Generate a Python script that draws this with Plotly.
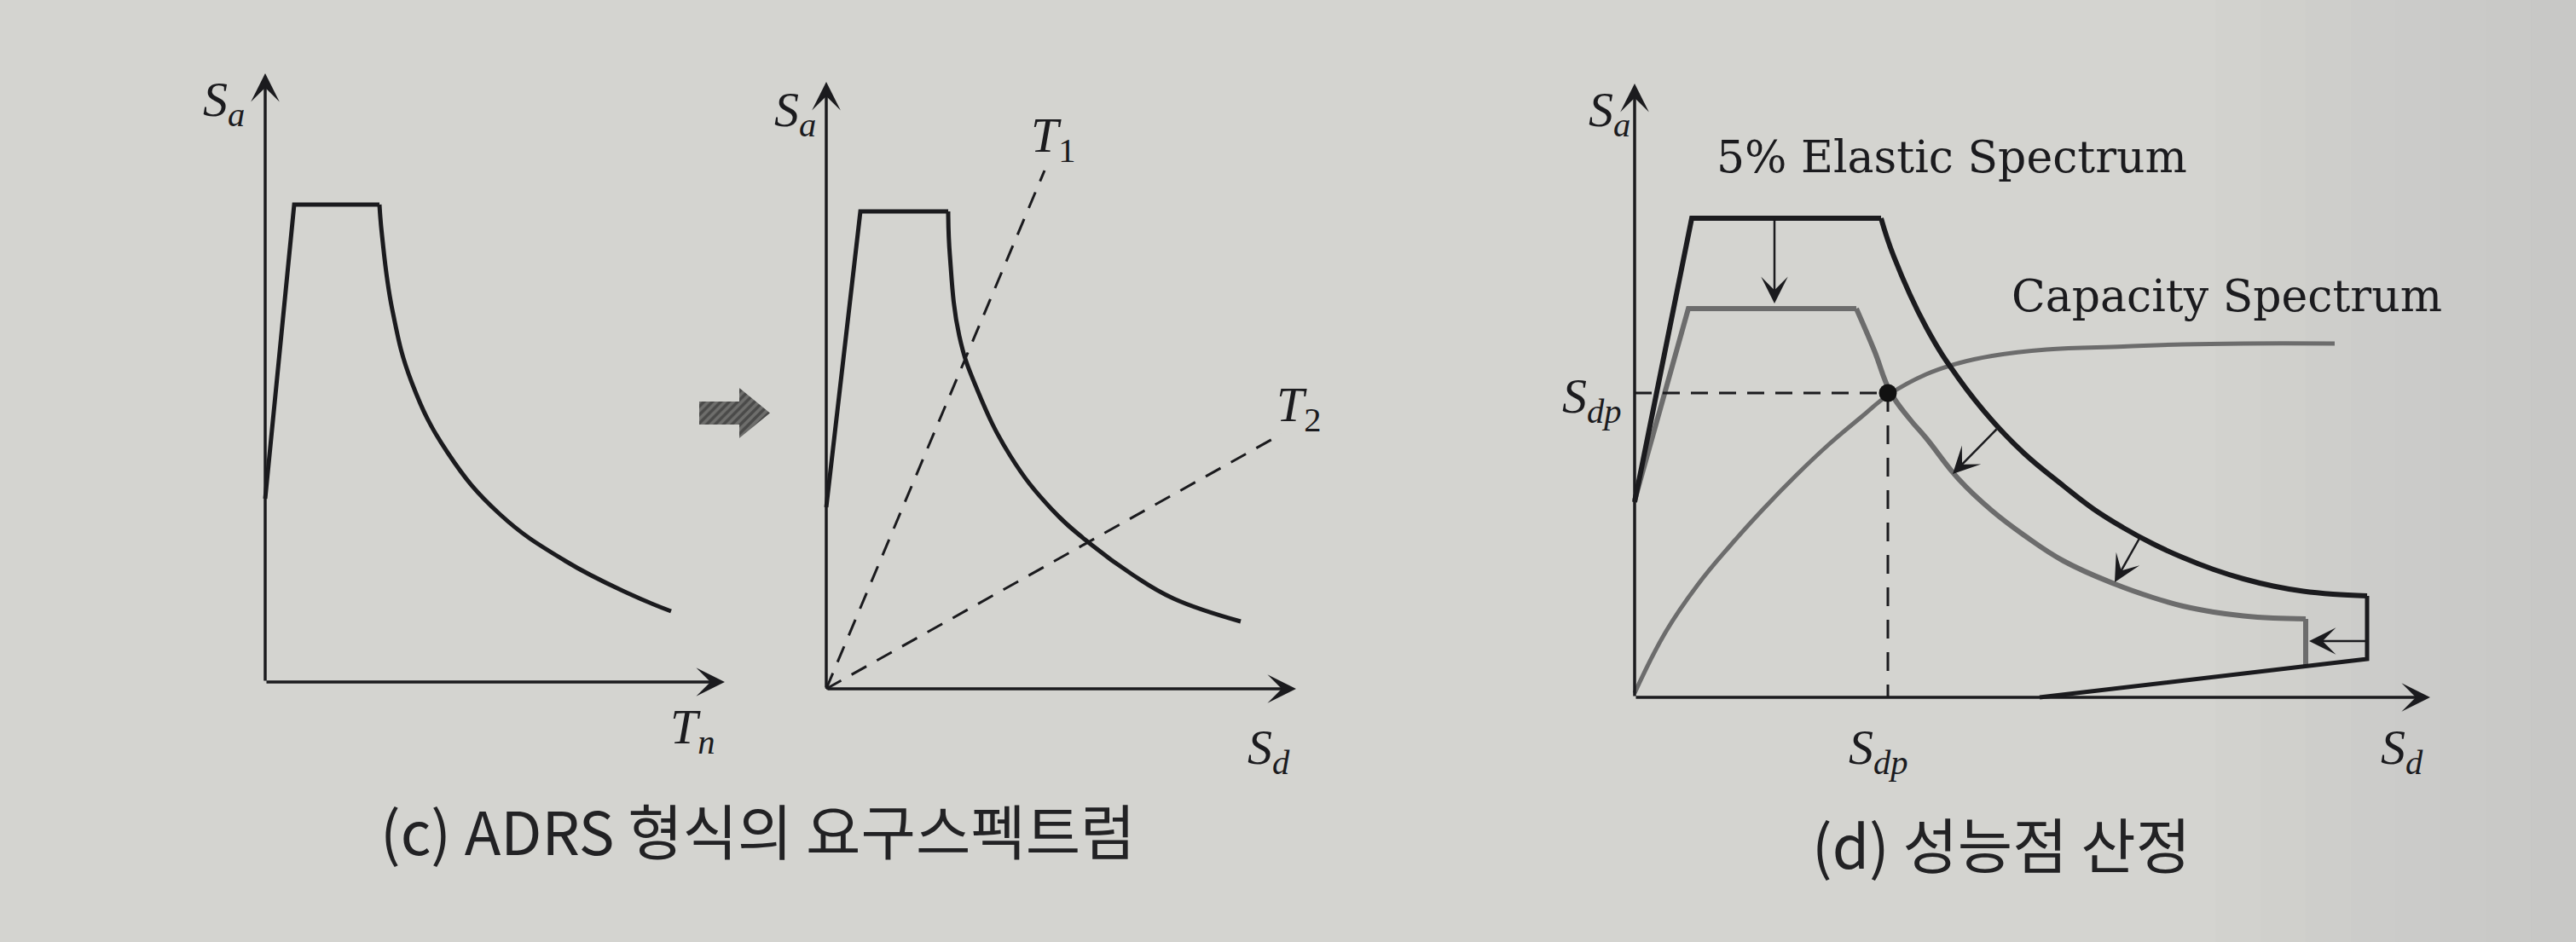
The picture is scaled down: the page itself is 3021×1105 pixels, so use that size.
import plotly.graph_objects as go

# ------------------------------------------------------------------
# DATA (sketch units: Sd / T on x, Sa on y)
# ------------------------------------------------------------------
# (c) left : acceleration spectrum Sa - Tn
c1_rise_x = [0.0, 0.68, 2.68]
c1_rise_y = [4.30, 11.20, 11.20]
c1_decay_x = [2.68, 2.74, 2.98, 3.44, 4.28, 5.50, 7.04, 8.56, 9.52]
c1_decay_y = [11.20, 10.48, 8.74, 7.02, 5.38, 3.94, 2.84, 2.06, 1.66]

# (c) right : ADRS demand spectrum with period lines
c2_rise_x = [0.0, 0.80, 2.86]
c2_rise_y = [4.26, 11.20, 11.20]
c2_decay_x = [2.86, 2.90, 3.12, 3.54, 4.32, 5.28, 6.22, 7.18, 8.14, 9.72]
c2_decay_y = [11.20, 10.16, 8.28, 7.02, 5.46, 4.22, 3.38, 2.68, 2.12, 1.58]
period_labels = ["T<sub>1</sub>", "T<sub>2</sub>"]
period_end_x = [5.12, 10.68]
period_end_y = [12.16, 5.98]
period_label_x = [5.32, 11.08]
period_label_y = [12.92, 6.60]

# (d) performance point
elastic_rise_x = [0.0, 1.34, 5.78]
elastic_rise_y = [4.58, 11.24, 11.24]
elastic_decay_x = [5.78, 6.08, 6.84, 7.60, 8.38, 9.14, 10.06, 10.76, 11.46, 12.16,
                   12.86, 13.58, 14.28, 14.98, 15.68, 16.38, 17.18]
elastic_decay_y = [11.24, 10.34, 8.68, 7.48, 6.50, 5.72, 4.96, 4.42, 3.98, 3.60,
                   3.28, 3.00, 2.78, 2.61, 2.49, 2.42, 2.38]
elastic_tail_x = [17.18, 17.18, 9.50]
elastic_tail_y = [2.38, 0.90, 0.00]

reduced_rise_x = [0.0, 1.26, 5.20]
reduced_rise_y = [4.62, 9.12, 9.12]
reduced_decay_x = [5.20, 5.62, 6.00, 6.46, 6.84, 7.60, 8.38, 9.14, 10.06, 11.26,
                   12.16, 12.86, 13.58, 14.28, 14.98, 15.74]
reduced_decay_y = [9.12, 8.14, 7.16, 6.52, 6.08, 5.12, 4.38, 3.80, 3.20, 2.66,
                   2.34, 2.14, 2.00, 1.91, 1.86, 1.84]
reduced_tail_x = [15.74, 15.74]
reduced_tail_y = [1.84, 0.73]

capacity_x = [0.0, 0.72, 1.48, 2.26, 3.02, 3.78, 4.54, 5.32, 5.96, 6.84, 7.60,
              8.38, 9.66, 11.46, 12.86, 14.28, 16.42]
capacity_y = [0.10, 1.52, 2.64, 3.58, 4.42, 5.20, 5.92, 6.58, 7.10, 7.58, 7.84,
              8.01, 8.16, 8.23, 8.28, 8.30, 8.30]

perf_sd = 5.94
perf_sa = 7.14

shift_tail_x = [3.28, 8.52, 11.88, 17.18]
shift_tail_y = [11.24, 6.32, 3.80, 1.32]
shift_head_x = [3.28, 7.46, 11.26, 15.82]
shift_head_y = [9.24, 5.24, 2.70, 1.32]

# axis extents (x, y) for each panel
axis_ext_x = [10.78, 11.02, 18.66]
axis_ext_y = [14.28, 14.24, 14.40]

# block arrow between the two (c) panels (panel-1 units)
block_arrow_x = [10.18, 11.12, 11.12, 11.84, 11.12, 11.12, 10.18, 10.18]
block_arrow_y = [6.58, 6.58, 6.90, 6.31, 5.72, 6.04, 6.04, 6.58]

# axis / curve labels  (main letter, subscript)
p1_labels = [("S", "a"), ("T", "n")]
p1_label_x = [-0.98, 10.02]
p1_label_y = [13.60, -1.12]
p2_labels = [("S", "a"), ("S", "d")]
p2_label_x = [-0.74, 10.38]
p2_label_y = [13.52, -1.44]
p3_labels = [("S", "a"), ("S", "dp"), ("S", "dp"), ("S", "d")]
p3_label_x = [-0.60, -1.00, 5.72, 18.00]
p3_label_y = [13.72, 7.00, -1.24, -1.24]
p3_texts = ["5% Elastic Spectrum", "Capacity Spectrum"]
p3_text_x = [7.44, 13.88]
p3_text_y = [12.68, 9.42]

captions = ["(c) ADRS 형식의 요구스펙트럼", "(d) 성능점 산정"]

# ------------------------------------------------------------------
# LAYOUT CONSTANTS
# ------------------------------------------------------------------
W, H = 3021, 1105
K = 50.0                                   # pixels per sketch unit
origins = [(311, 800), (969, 808), (1917, 818)]
caption_pos = [(444, 972), (2123, 988)]

INK = "#1b1b1e"
GRAY = "#6c6c6c"
BG = "#d4d4d0"
MATH_FONT = dict(family="Liberation Serif", size=58, color=INK)
TEXT_FONT = dict(family="DejaVu Serif", size=52, color=INK)
CAP_FONT = dict(family="Noto Sans CJK KR", size=70, color="#222224")

fig = go.Figure()
axes = [("x", "y"), ("x2", "y2"), ("x3", "y3")]


def line(xr, yr, xs, ys, color=INK, width=5, shape="linear", dash="solid"):
    fig.add_trace(go.Scatter(x=xs, y=ys, mode="lines", xaxis=xr, yaxis=yr,
                             line=dict(color=color, width=width, shape=shape,
                                       dash=dash, smoothing=1.2),
                             hoverinfo="skip", showlegend=False))


def arrow(xr, yr, x0, y0, x1, y1, width=3.5, size=1.6):
    fig.add_annotation(x=x1, y=y1, ax=x0, ay=y0, xref=xr, yref=yr,
                       axref=xr, ayref=yr, text="", showarrow=True,
                       arrowhead=3, arrowsize=size, arrowwidth=width,
                       arrowcolor=INK)


def math_label(xr, yr, x, y, main, sub):
    fig.add_annotation(x=x, y=y, xref=xr, yref=yr,
                       text="<i>%s</i><sub><i>%s</i></sub>" % (main, sub),
                       showarrow=False, font=MATH_FONT,
                       xanchor="center", yanchor="middle")


def text_label(xr, yr, x, y, txt, font):
    fig.add_annotation(x=x, y=y, xref=xr, yref=yr, text=txt, showarrow=False,
                       font=font, xanchor="center", yanchor="middle")


# axes arrows for each panel
for i, (xr, yr) in enumerate(axes):
    arrow(xr, yr, 0, 0, axis_ext_x[i], 0)
    arrow(xr, yr, 0, 0, 0, axis_ext_y[i])

# ---- panel 1
line("x", "y", c1_rise_x, c1_rise_y)
line("x", "y", c1_decay_x, c1_decay_y, shape="spline")
fig.add_trace(go.Scatter(x=block_arrow_x, y=block_arrow_y, mode="lines",
                         fill="toself", fillcolor="#4a4a4a",
                         fillpattern=dict(shape="/", fgcolor="#262626",
                                          bgcolor="#6e6e6c", size=7, solidity=0.5),
                         line=dict(width=0, color="#444"), hoverinfo="skip",
                         showlegend=False, xaxis="x", yaxis="y"))
for (m, s), x, y in zip(p1_labels, p1_label_x, p1_label_y):
    math_label("x", "y", x, y, m, s)

# ---- panel 2
line("x2", "y2", c2_rise_x, c2_rise_y)
line("x2", "y2", c2_decay_x, c2_decay_y, shape="spline")
for ex, ey in zip(period_end_x, period_end_y):
    line("x2", "y2", [0, ex], [0, ey], width=3, dash="20px,14px")
for t, x, y in zip(period_labels, period_label_x, period_label_y):
    main, sub = t.split("<sub>")
    fig.add_annotation(x=x, y=y, xref="x2", yref="y2",
                       text="<i>%s</i><sub>%s" % (main, sub), showarrow=False,
                       font=MATH_FONT, xanchor="center", yanchor="middle")
for (m, s), x, y in zip(p2_labels, p2_label_x, p2_label_y):
    math_label("x2", "y2", x, y, m, s)

# ---- panel 3
line("x3", "y3", capacity_x, capacity_y, color=GRAY, width=5, shape="spline")
line("x3", "y3", reduced_rise_x, reduced_rise_y, color=GRAY, width=6)
line("x3", "y3", reduced_decay_x, reduced_decay_y, color=GRAY, width=6, shape="spline")
line("x3", "y3", reduced_tail_x, reduced_tail_y, color=GRAY, width=6)
line("x3", "y3", elastic_rise_x, elastic_rise_y, width=6)
line("x3", "y3", elastic_decay_x, elastic_decay_y, width=6, shape="spline")
line("x3", "y3", elastic_tail_x, elastic_tail_y, width=5)
line("x3", "y3", [0, perf_sd], [perf_sa, perf_sa], width=3, dash="20px,13px")
line("x3", "y3", [perf_sd, perf_sd], [perf_sa, 0], width=3, dash="22px,16px")
fig.add_trace(go.Scatter(x=[perf_sd], y=[perf_sa], mode="markers", xaxis="x3", yaxis="y3",
                         marker=dict(size=21, color="#111"), hoverinfo="skip",
                         showlegend=False))
for x0, y0, x1, y1 in zip(shift_tail_x, shift_tail_y, shift_head_x, shift_head_y):
    arrow("x3", "y3", x0, y0, x1, y1, width=2.5, size=2.1)
for (m, s), x, y in zip(p3_labels, p3_label_x, p3_label_y):
    math_label("x3", "y3", x, y, m, s)
for t, x, y in zip(p3_texts, p3_text_x, p3_text_y):
    text_label("x3", "y3", x, y, t, TEXT_FONT)

# captions
for t, (cx, cy) in zip(captions, caption_pos):
    fig.add_annotation(x=cx / W, y=1 - cy / H, xref="paper", yref="paper", text=t,
                       showarrow=False, font=CAP_FONT, xanchor="left", yanchor="middle")

# paper shading (photo gets darker towards the right edge)
shade_steps = 8
for s in range(shade_steps):
    fig.add_shape(type="rect", xref="paper", yref="paper",
                  x0=0.86 + 0.14 * s / shade_steps, x1=1.0, y0=0, y1=1,
                  fillcolor="#8c8c8a", opacity=0.02, line=dict(width=0), layer="below")

axis_style = dict(visible=False, showgrid=False, zeroline=False, fixedrange=True,
                  domain=[0, 1])
layout_axes = {}
for i, (ox, oy) in enumerate(origins):
    sfx = "" if i == 0 else str(i + 1)
    layout_axes["xaxis" + sfx] = dict(axis_style, range=[-ox / K, (W - ox) / K],
                                      anchor="y" + sfx)
    layout_axes["yaxis" + sfx] = dict(axis_style, range=[(oy - H) / K, oy / K],
                                      anchor="x" + sfx)

fig.update_layout(width=W, height=H, margin=dict(l=0, r=0, t=0, b=0),
                  paper_bgcolor=BG, plot_bgcolor="rgba(0,0,0,0)",
                  showlegend=False, **layout_axes)

fig.write_html("out.html", config={"displayModeBar": False},
               post_script="document.body.style.margin='0';")
